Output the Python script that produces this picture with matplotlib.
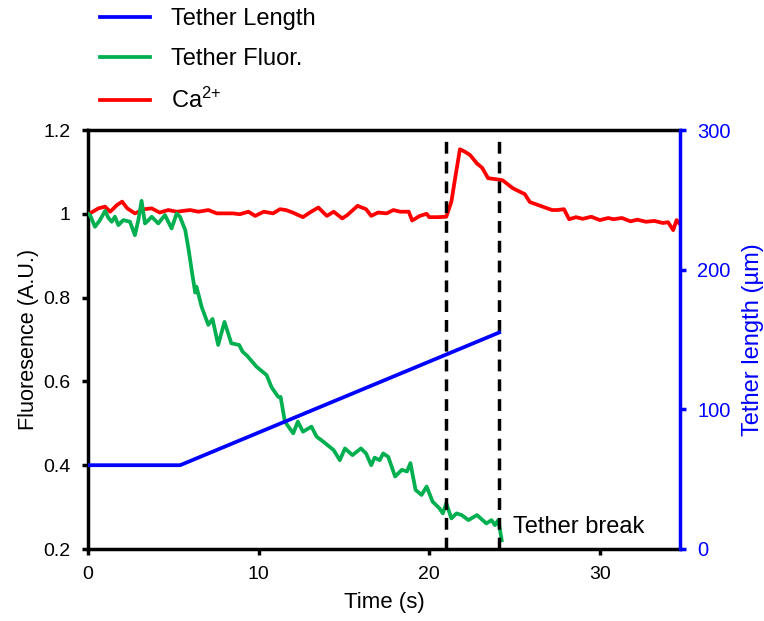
import matplotlib
matplotlib.use("Agg")
import matplotlib.pyplot as plt

plt.rcParams['font.family'] = ['Liberation Sans', 'DejaVu Sans']
plt.rcParams['mathtext.default'] = 'regular'

# ---- data ----
green_t = [0.0, 0.12, 0.41, 0.7, 1.0, 1.2, 1.39, 1.58, 1.78, 2.07, 2.46, 2.75, 2.95, 3.14, 3.34,
           3.55, 3.73, 4.12, 4.51, 4.9, 5.2, 5.39, 5.7, 5.9, 6.1, 6.2, 6.28, 6.36, 6.66, 7.05,
           7.3, 7.63, 8.0, 8.4, 8.86, 9.06, 9.33, 9.88, 10.47, 10.76, 11.15, 11.29, 11.54, 12.03,
           12.3, 12.6, 13.1, 13.4, 13.8, 14.4, 14.76, 15.06, 15.5, 16.0, 16.3, 16.6, 16.8, 17.1,
           17.3, 17.6, 18.0, 18.4, 18.7, 18.9, 19.2, 19.55, 19.85, 20.2, 20.6, 20.8, 21.0, 21.3,
           21.6, 21.9, 22.3, 22.8, 23.35, 23.65, 23.85, 24.05, 24.25]
green_v = [1.0, 0.997, 0.969, 0.985, 1.007, 0.99, 0.981, 0.993, 0.973, 0.985, 0.981, 0.949, 0.985,
           1.031, 0.977, 0.985, 0.993, 0.977, 0.997, 0.965, 1.001, 0.993, 0.961, 0.914, 0.859,
           0.834, 0.812, 0.826, 0.778, 0.735, 0.749, 0.687, 0.742, 0.691, 0.687, 0.671, 0.661,
           0.635, 0.615, 0.586, 0.563, 0.563, 0.504, 0.476, 0.504, 0.48, 0.492, 0.468, 0.456,
           0.436, 0.412, 0.44, 0.424, 0.44, 0.428, 0.40, 0.418, 0.412, 0.428, 0.42, 0.373, 0.389,
           0.385, 0.405, 0.341, 0.329, 0.349, 0.313, 0.297, 0.285, 0.309, 0.273, 0.285, 0.281,
           0.269, 0.281, 0.261, 0.269, 0.257, 0.269, 0.221]

red_t = [0.0, 0.12, 0.61, 1.0, 1.3, 1.7, 2.0, 2.3, 2.75, 3.3, 3.73, 4.2, 4.7, 5.2, 5.98, 6.47,
         7.06, 7.55, 8.1, 8.5, 8.9, 9.4, 9.8, 10.3, 10.85, 11.25, 11.6, 12.0, 12.6, 13.0, 13.5,
         14.0, 14.4, 14.9, 15.2, 15.8, 16.3, 16.6, 17.0, 17.5, 17.9, 18.3, 18.8, 19.0, 19.45,
         19.85, 20.0, 20.5, 21.0, 21.3, 21.5, 21.8, 22.1, 22.4, 22.8, 23.1, 23.45, 24.0, 24.3,
         24.9, 25.6, 25.9, 26.65, 27.2, 27.5, 27.9, 28.2, 28.6, 29.0, 29.5, 30.0, 30.5, 30.8,
         31.3, 31.8, 32.2, 32.7, 33.2, 33.7, 34.0, 34.3, 34.5, 34.7]
red_v = [1.0, 1.001, 1.013, 1.017, 1.005, 1.021, 1.029, 1.013, 1.001, 1.011, 1.013, 1.003, 1.009,
         1.005, 1.009, 1.005, 1.009, 1.001, 1.001, 1.001, 0.999, 1.005, 0.995, 1.005, 1.001,
         1.011, 1.009, 1.003, 0.992, 1.003, 1.015, 0.995, 1.005, 0.989, 0.997, 1.019, 1.011,
         0.995, 1.003, 1.001, 1.009, 1.005, 1.005, 0.984, 0.995, 1.0, 0.992, 0.992, 0.993,
         1.029, 1.08, 1.154, 1.148, 1.14, 1.12, 1.11, 1.085, 1.082, 1.08, 1.061, 1.047, 1.028,
         1.017, 1.009, 1.009, 1.011, 0.987, 0.992, 0.988, 0.993, 0.985, 0.99, 0.987, 0.99,
         0.982, 0.986, 0.981, 0.983, 0.978, 0.98, 0.961, 0.985, 0.975]

length_t = [0.0, 5.4, 24.1]
length_um = [60, 60, 155]

event_t = [21.0, 24.1]

labels = ['Tether Length', 'Tether Fluor.', 'Ca$^{2{+}}$']

# ---- figure ----
fig = plt.figure(figsize=(7.64, 6.21), dpi=100)
ax = fig.add_axes([88/764, 1-549/621, (680-88)/764, (549-130)/621])
ax2 = ax.twinx()

GREEN = '#00b050'
RED = '#ff0000'
BLUE = '#0000ff'
LW = 2.7

l_red, = ax.plot(red_t, red_v, color=RED, lw=LW, zorder=3)
l_green, = ax.plot(green_t, green_v, color=GREEN, lw=LW, zorder=3)
for t in event_t:
    ax.plot([t, t], [0.2, 1.175], color='black', lw=2.5, ls=(0, (3.4, 2.3)), zorder=4)

l_blue, = ax2.plot(length_t, length_um, color=BLUE, lw=LW)

ax.text(24.9, 0.253, 'Tether break', fontsize=17, ha='left', va='center')

ax.set_xlim(0, 34.7)
ax.set_ylim(0.2, 1.2)
ax2.set_ylim(0, 300)
ax.set_xticks([0, 10, 20, 30])
ax.set_yticks([0.2, 0.4, 0.6, 0.8, 1.0, 1.2])
ax.set_yticklabels(['0.2', '0.4', '0.6', '0.8', '1', '1.2'])
ax2.set_yticks([0, 100, 200, 300])

for sp in ['left', 'bottom', 'top']:
    ax.spines[sp].set_linewidth(2.5)
    ax.spines[sp].set_color('black')
for sp in ['left', 'bottom', 'top']:
    ax2.spines[sp].set_visible(False)
ax2.spines['right'].set_color(BLUE)
ax2.spines['right'].set_linewidth(2.5)
ax.spines['right'].set_visible(False)

ax.tick_params(axis='both', direction='out', length=4.5, width=2.5, labelsize=14, colors='black', pad=8)
ax2.tick_params(axis='y', direction='out', length=4.5, width=2.5, labelsize=14.5, colors=BLUE, pad=8)

ax.set_xlabel('Time (s)', fontsize=16, labelpad=6)
ax.set_ylabel('Fluoresence (A.U.)', fontsize=15.6, labelpad=3)
ax2.set_ylabel('Tether length (µm)', fontsize=17, color=BLUE, labelpad=8)

fig.legend([l_blue, l_green, l_red], labels, loc='upper left',
           bbox_to_anchor=(100/764, 1 - 8/621), frameon=False, fontsize=17,
           borderpad=0, borderaxespad=0,
           handlelength=2.1, handletextpad=0.9, labelspacing=0.76)

fig.savefig('out.png', dpi=100)
